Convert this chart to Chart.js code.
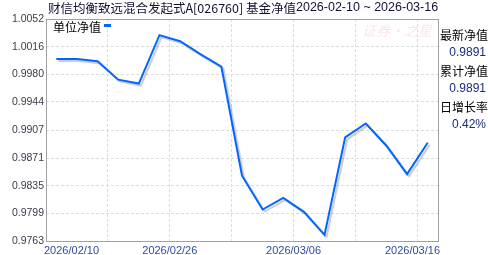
<!DOCTYPE html>
<html>
<head>
<meta charset="utf-8">
<script src="https://cdn.jsdelivr.net/npm/chart.js@4.4.1/dist/chart.umd.min.js"></script>
<style>
  html, body { margin: 0; padding: 0; background: #fff; }
  #wrap { width: 488px; height: 255px; }
</style>
</head>
<body>
<div id="wrap"><canvas id="navChart" width="488" height="255"></canvas></div>
<script>
const dates = [
  '2026/02/10', '2026/02/11', '2026/02/12', '2026/02/13', '2026/02/24',
  '2026/02/25', '2026/02/26', '2026/02/27', '2026/03/02', '2026/03/03',
  '2026/03/04', '2026/03/05', '2026/03/06', '2026/03/09', '2026/03/10',
  '2026/03/11', '2026/03/12', '2026/03/13', '2026/03/16'
];
const navValues = [
  1.0000, 1.0000, 0.9997, 0.9973, 0.9968,
  1.0031, 1.0023, 1.0006, 0.9990, 0.9848,
  0.9804, 0.9819, 0.9801, 0.9771, 0.9898,
  0.9916, 0.9887, 0.9850, 0.9891
];
const yTicks = [1.0052, 1.0016, 0.9980, 0.9944, 0.9907, 0.9871, 0.9835, 0.9799, 0.9763];
const fundTitle = '财信均衡致远混合发起式A[026760] 基金净值';
const periodText = '2026-02-10 ~ 2026-03-16';
const seriesName = '单位净值';
const sideLabels = ['最新净值', '累计净值', '日增长率'];
const sideValues = ['0.9891', '0.9891', '0.42%'];
const watermark = '证券·之星';

const LINE_BLUE = '#0066ff';
const CJK = '"Noto Sans CJK SC", sans-serif';
const LATIN = '"Liberation Sans", Arial, sans-serif';

// ---- extra drawing: frame, shadow, title, legend, side panel, x labels ----
const decor = {
  id: 'decor',
  beforeDatasetsDraw(chart) {
    const { ctx, chartArea: a } = chart;
    ctx.save();
    ctx.font = 'italic 14px ' + CJK;
    ctx.fillStyle = 'rgba(240,130,130,0.2)';
    ctx.textBaseline = 'middle';
    ctx.fillText(watermark, a.right - 76, a.top + 12);
    ctx.strokeStyle = '#a0a0a0';
    ctx.lineWidth = 1;
    ctx.strokeRect(a.left + 0.5, a.top + 0.5, a.right - a.left, a.bottom - a.top);
    ctx.restore();
  },
  beforeDatasetDraw(chart) {
    const ctx = chart.ctx;
    ctx.save();
    ctx.shadowColor = 'rgba(0,0,0,0.22)';
    ctx.shadowOffsetX = 2;
    ctx.shadowOffsetY = 2;
    ctx.shadowBlur = 1;
  },
  afterDatasetDraw(chart) {
    chart.ctx.restore();
  },
  afterDraw(chart) {
    const { ctx, chartArea: a } = chart;
    ctx.save();

    // title
    ctx.textBaseline = 'middle';
    ctx.textAlign = 'left';
    ctx.fillStyle = '#111133';
    ctx.font = '12.5px ' + CJK;
    ctx.fillText(fundTitle, a.left + 2, 8);
    const tw = ctx.measureText(fundTitle).width;
    ctx.font = '12.5px ' + LATIN;
    ctx.fillText(periodText, a.left + 2 + tw, 8);

    // legend
    ctx.font = '12px ' + CJK;
    ctx.fillStyle = '#000';
    ctx.fillText(seriesName, a.left + 7, a.top + 8);
    const lw = ctx.measureText(seriesName).width;
    ctx.fillStyle = LINE_BLUE;
    ctx.fillRect(a.left + 7 + lw + 3, a.top + 5, 7, 3);

    // side panel
    sideLabels.forEach((lab, k) => {
      const y = a.top + 16 + 36 * k;
      ctx.textAlign = 'left';
      ctx.font = '12px ' + CJK;
      ctx.fillStyle = '#000';
      ctx.fillText(lab, a.right + 2, y);
      ctx.textAlign = 'right';
      ctx.font = '12px ' + LATIN;
      ctx.fillStyle = '#1a2a80';
      ctx.fillText(sideValues[k], chart.width - 2, y + 18);
    });

    // x labels, on the grid lines, kept inside the frame
    const xs = chart.scales.x;
    const half = (xs.getPixelForValue(1) - xs.getPixelForValue(0)) / 2;
    ctx.font = '11px ' + LATIN;
    ctx.fillStyle = '#2e4d9e';
    ctx.textAlign = 'center';
    ctx.textBaseline = 'alphabetic';
    dates.forEach((d, i) => {
      if (i % 6 !== 0) return;
      const w = ctx.measureText(d).width;
      let x = xs.getPixelForValue(i) - half;
      x = Math.max(a.left - 2 + w / 2, Math.min(a.right + 2 - w / 2, x));
      ctx.fillText(d, x, 254);
    });
    ctx.restore();
  }
};

new Chart(document.getElementById('navChart'), {
  type: 'line',
  data: {
    labels: dates,
    datasets: [{
      label: seriesName,
      data: navValues,
      borderColor: LINE_BLUE,
      borderWidth: 2,
      pointRadius: 0,
      tension: 0,
      fill: false
    }]
  },
  options: {
    responsive: false,
    devicePixelRatio: 1,
    animation: false,
    layout: { padding: { top: 19, right: 50, left: 0, bottom: 0 } },
    plugins: { legend: { display: false }, tooltip: { enabled: false } },
    scales: {
      x: {
        type: 'category',
        offset: true,
        grid: {
          offset: true,
          drawTicks: false,
          color: (c) => (c.index % 3 === 0 ? '#dcdcdc' : 'rgba(0,0,0,0)')
        },
        border: { display: false, dash: [3, 2] },
        ticks: { display: false, autoSkip: false },
        afterFit: (scale) => { scale.height = 14; }
      },
      y: {
        min: yTicks[yTicks.length - 1],
        max: yTicks[0],
        grid: { drawTicks: false, color: '#dcdcdc' },
        border: { display: false, dash: [3, 2] },
        afterBuildTicks: (scale) => { scale.ticks = yTicks.map(v => ({ value: v })); },
        ticks: {
          padding: 2,
          color: '#3a3a4a',
          font: { family: LATIN, size: 10.5 },
          callback: (v) => Number(v).toFixed(4)
        },
        afterFit: (scale) => { scale.width = 46; }
      }
    }
  },
  plugins: [decor]
});
</script>
</body>
</html>
